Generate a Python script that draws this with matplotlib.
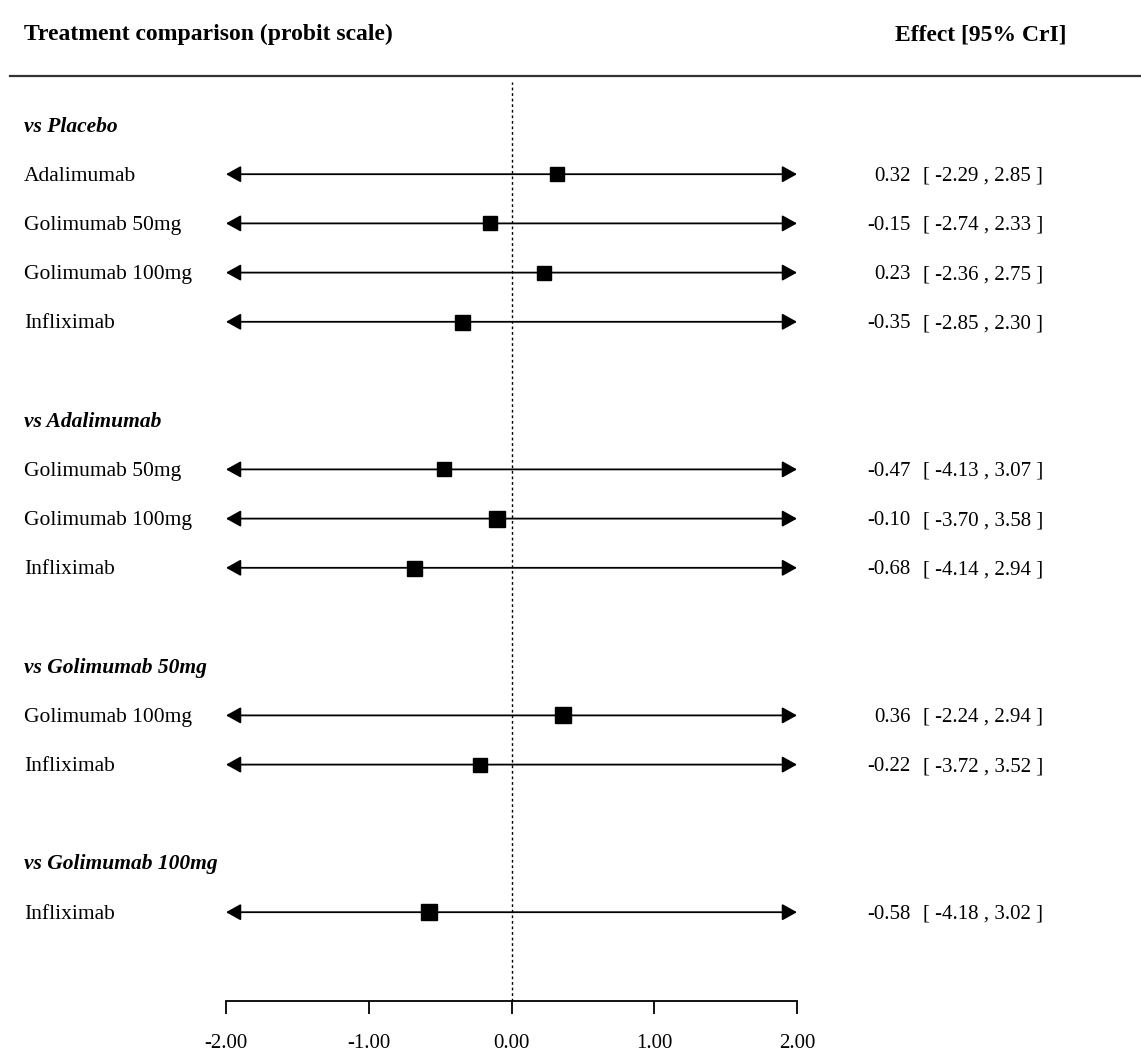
import matplotlib
matplotlib.use("Agg")
import matplotlib.pyplot as plt
from matplotlib.transforms import blended_transform_factory, offset_copy

plt.rcParams['font.family'] = ['Liberation Serif', 'DejaVu Serif']

# Comparison groups and the treatments within each
groups = ["vs Placebo", "vs Adalimumab", "vs Golimumab 50mg", "vs Golimumab 100mg"]
treatments = [
    ["Adalimumab", "Golimumab 50mg", "Golimumab 100mg", "Infliximab"],
    ["Golimumab 50mg", "Golimumab 100mg", "Infliximab"],
    ["Golimumab 100mg", "Infliximab"],
    ["Infliximab"],
]
# Posterior mean and 95% credible interval (probit scale)
effects = [
    [0.32, -0.15, 0.23, -0.35],
    [-0.47, -0.10, -0.68],
    [0.36, -0.22],
    [-0.58],
]
lower = [
    [-2.29, -2.74, -2.36, -2.85],
    [-4.13, -3.70, -4.14],
    [-2.24, -3.72],
    [-4.18],
]
upper = [
    [2.85, 2.33, 2.75, 2.30],
    [3.07, 3.58, 2.94],
    [2.94, 3.52],
    [3.02],
]
# Relative square sizes (weights)
weights = [
    [14, 14, 14, 15],
    [14, 16, 15],
    [16, 14],
    [16],
]
xticks = [-2.0, -1.0, 0.0, 1.0, 2.0]
xmin, xmax = -2.0, 2.0

W, H = 1141, 1054
fig = plt.figure(figsize=(W / 100, H / 100), dpi=100)
ax = fig.add_axes([226 / W, (H - 1001) / H, (797 - 226) / W, (1001 - 82) / H])
ax.set_xlim(xmin, xmax)

# Row layout: group header, its treatment rows, then one blank row
rows = []
r = 0
for gi, g in enumerate(groups):
    rows.append(("header", r, gi, None))
    r += 1
    for ti in range(len(treatments[gi])):
        rows.append(("row", r, gi, ti))
        r += 1
    r += 1
row_top, row_step = 125.0, 49.2
ax.set_ylim((1001 - row_top) / row_step, (82 - row_top) / row_step)

for s in ["top", "left", "right"]:
    ax.spines[s].set_visible(False)
ax.spines["bottom"].set_bounds(xmin, xmax)
ax.spines["bottom"].set_linewidth(1.3)
ax.set_yticks([])
ax.set_xticks(xticks)
ax.set_xticklabels([f"{v:.2f}" for v in xticks], fontsize=15)
ax.tick_params(axis="x", direction="out", length=9.5, width=1.3, pad=14)
ax.patch.set_alpha(0)

ax.axvline(0, color="black", linestyle=(0, (2, 2)), linewidth=1.0)

# Text rows sit on a baseline a few pixels below each row's centre line
lab_tr = offset_copy(blended_transform_factory(fig.transFigure, ax.transData),
                     fig=fig, y=-6.5, units="dots")
for kind, y, gi, ti in rows:
    if kind == "header":
        ax.text(24 / W, y, groups[gi], transform=lab_tr, fontsize=15.5,
                fontstyle="italic", fontweight="bold", va="baseline", ha="left")
        continue
    est, lo, hi = effects[gi][ti], lower[gi][ti], upper[gi][ti]
    ax.text(24 / W, y, treatments[gi][ti], transform=lab_tr, fontsize=15.5,
            va="baseline", ha="left")
    left_clip, right_clip = lo < xmin, hi > xmax
    x0, x1 = max(lo, xmin), min(hi, xmax)
    style = ("<|" if left_clip else "") + "-" + ("|>" if right_clip else "")
    ax.annotate("", xy=(x1, y), xytext=(x0, y),
                arrowprops=dict(arrowstyle=style + ",head_length=0.9,head_width=0.5",
                                color="black", lw=1.3, shrinkA=0, shrinkB=0),
                annotation_clip=False)
    ax.plot(est, y, marker="s", color="black", markersize=weights[gi][ti] * 0.72,
            clip_on=False, zorder=5)
    ax.text(911 / W, y, f"{est:.2f}", transform=lab_tr, fontsize=15,
            va="baseline", ha="right")
    ax.text(983 / W, y, f"[ {lo:.2f} , {hi:.2f} ]", transform=lab_tr, fontsize=15,
            va="baseline", ha="center")

# Header titles and separator
fig.text(24 / W, 1 - 40 / H, "Treatment comparison (probit scale)", fontsize=17,
         fontweight="bold", va="baseline", ha="left")
fig.text(981 / W, 1 - 40 / H, "Effect [95% CrI]", fontsize=17,
         fontweight="bold", va="baseline", ha="center")
fig.add_artist(plt.Line2D([10 / W, 1], [1 - 76 / H, 1 - 76 / H],
                          transform=fig.transFigure, color="#333333", linewidth=1.6))

fig.savefig("out.png", dpi=100, facecolor="white")
